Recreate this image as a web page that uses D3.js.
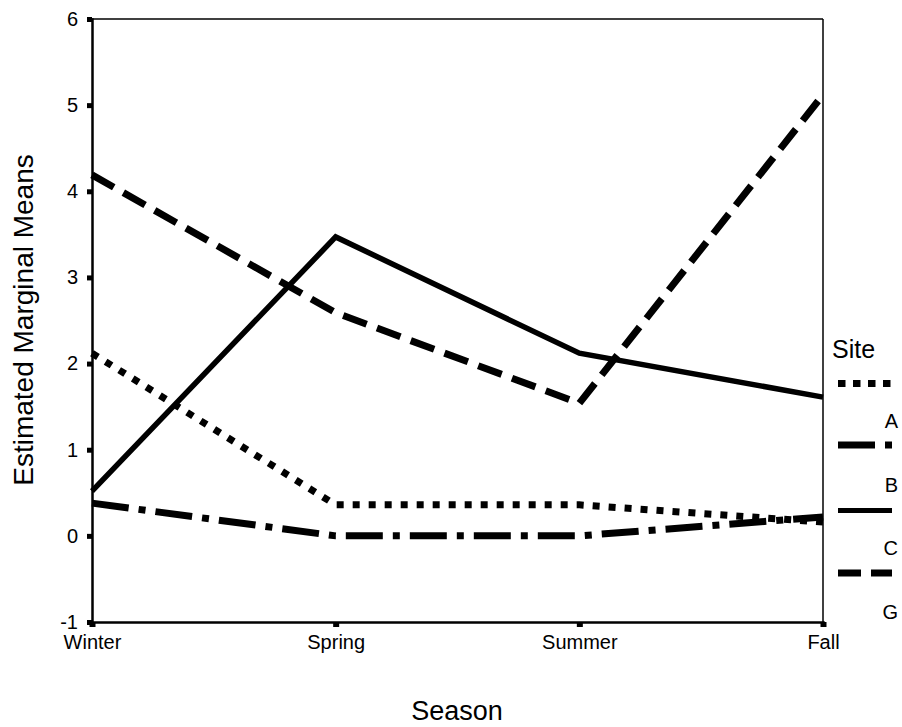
<!DOCTYPE html>
<html><head><meta charset="utf-8">
<script src="https://cdn.jsdelivr.net/npm/d3@7"></script>
<style>body{margin:0;background:#fff}svg{display:block}text{font-family:"Liberation Sans",Arial,sans-serif;fill:#000}</style>
</head><body>
<script>
const seasons = ["Winter","Spring","Summer","Fall"];
const sites = ["A","B","C","G"];
const siteA = [2.12, 0.36, 0.36, 0.16];
const siteB = [0.38, 0.0, 0.0, 0.22];
const siteC = [0.52, 3.47, 2.12, 1.61];
const siteG = [4.19, 2.59, 1.54, 5.12];
const yTicks = [-1,0,1,2,3,4,5,6];
const series = [siteA, siteB, siteC, siteG];
const dashes = ["7,9", "37,10,7,10", null, "25,11"];

const W = 902, H = 727;
const svg = d3.select("body").append("svg").attr("width", W).attr("height", H);
svg.append("rect").attr("width", W).attr("height", H).attr("fill", "#fff");

const x = d3.scalePoint().domain(seasons).range([92, 823]);
const y = d3.scaleLinear().domain([-1, 6]).range([622, 19]);

// frame top/right
svg.append("line").attr("x1",92).attr("x2",823).attr("y1",19).attr("y2",19).attr("stroke","#000").attr("stroke-width",1.5);
svg.append("line").attr("x1",823).attr("x2",823).attr("y1",19).attr("y2",622).attr("stroke","#000").attr("stroke-width",1.5);

// lines
const line = d3.line().x((d,i)=>x(seasons[i])).y(d=>y(d));
series.forEach((s,k)=>{
  const p = svg.append("path").datum(s).attr("d", line).attr("fill","none")
    .attr("stroke","#000").attr("stroke-width", k===2 ? 5.5 : 7).attr("stroke-linecap","butt").attr("stroke-linejoin","miter");
  if (dashes[k]) p.attr("stroke-dasharray", dashes[k]);
});

// y axis
const yAxis = d3.axisLeft(y).tickValues(yTicks).tickSize(5).tickPadding(9).tickFormat(d => String(d));
const gy = svg.append("g").attr("transform","translate(92,0)").call(yAxis);
gy.select(".domain").attr("stroke-width",2.5);
gy.selectAll(".tick line").attr("stroke-width",5);
gy.selectAll(".tick text").attr("font-size",20).attr("font-family","Liberation Sans, Arial, sans-serif");

// x axis
const xAxis = d3.axisBottom(x).tickSize(5).tickPadding(8);
const gx = svg.append("g").attr("transform","translate(0,622)").call(xAxis);
gx.select(".domain").attr("stroke-width",2.5);
gx.selectAll(".tick line").attr("stroke-width",6);
gx.selectAll(".tick text").attr("font-size",20).attr("font-family","Liberation Sans, Arial, sans-serif");

// axis titles
svg.append("text").attr("x",457).attr("y",720).attr("text-anchor","middle").attr("font-size",27).text("Season");
svg.append("text").attr("transform","translate(33,320) rotate(-90)").attr("text-anchor","middle").attr("font-size",28).text("Estimated Marginal Means");

// legend
svg.append("text").attr("x",832).attr("y",358).attr("font-size",25).text("Site");
const legY = [383.5, 445, 510.5, 573];
const labY = [428, 492, 555, 619];
sites.forEach((s,k)=>{
  const l = svg.append("line").attr("x1",838).attr("x2",892).attr("y1",legY[k]).attr("y2",legY[k])
    .attr("stroke","#000").attr("stroke-width",k===2?5:7);
  if (dashes[k]) l.attr("stroke-dasharray", k===0 ? "7.5,7.5" : (k===3 ? "23,10" : dashes[k]));
  svg.append("text").attr("x",898).attr("y",labY[k]).attr("text-anchor","end").attr("font-size",20).text(s);
});
</script>
</body></html>
